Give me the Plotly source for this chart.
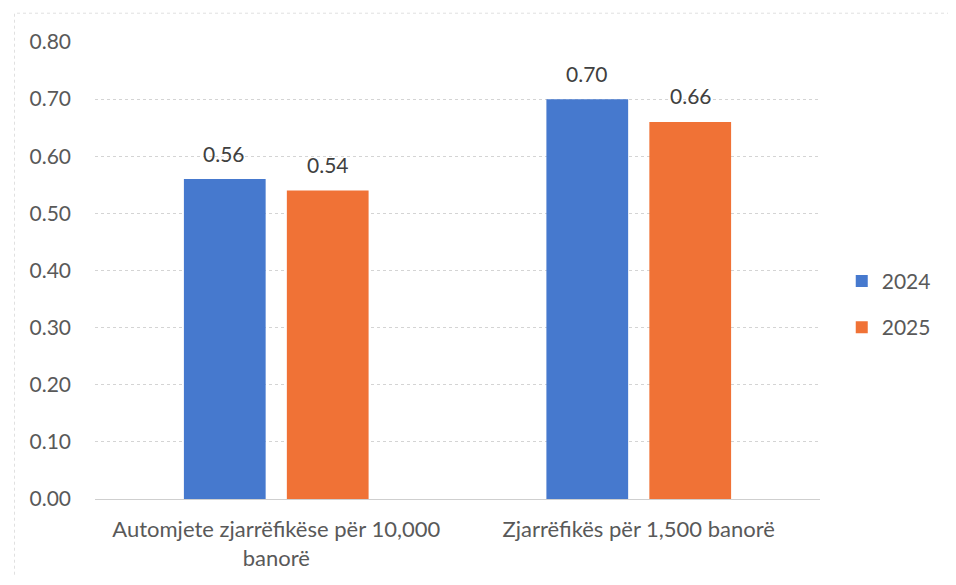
import plotly.graph_objects as go

categories = ["Automjete zjarrëfikëse për 10,000<br>banorë", "Zjarrëfikës për 1,500 banorë"]
years = ["2024", "2025"]
values_2024 = [0.56, 0.70]
values_2025 = [0.54, 0.66]
colors = ["#4679CE", "#F07236"]

fig = go.Figure()
for name, vals, col in zip(years, [values_2024, values_2025], colors):
    fig.add_trace(go.Bar(
        x=categories, y=vals, name=name, legendgroup=name,
        marker=dict(color=col, line=dict(width=0)),
    ))

# value labels above the bars
offsets = [-52, 52]
for vals, dx in zip([values_2024, values_2025], offsets):
    for cat, v in zip(categories, vals):
        fig.add_annotation(x=cat, y=v, text=f"{v:.2f}", showarrow=False,
                           xshift=dx, yshift=26, yanchor="middle",
                           font=dict(size=21, color="#404040"))

fig.update_layout(
    width=940, height=569,
    paper_bgcolor="white", plot_bgcolor="white",
    font=dict(family="Lato, 'Open Sans', sans-serif", color="#595959", size=21),
    margin=dict(l=87, r=116, t=34, b=78),
    barmode="group", bargap=0.432, bargroupgap=0.206,
    legend=dict(x=1.03, y=0.426, xanchor="left", yanchor="middle",
                font=dict(size=21, color="#595959"), tracegroupgap=16,
                itemwidth=30),
    showlegend=True,
)
fig.update_yaxes(range=[0, 0.8], dtick=0.1, tickformat=".2f", automargin=False,
                 showgrid=True, gridcolor="#d4d4d4", griddash="dot", gridwidth=1,
                 zeroline=True, zerolinecolor="#cfcfcf", zerolinewidth=1,
                 showline=False, ticks="", ticklabelstandoff=23,
                 tickfont=dict(size=21, color="#595959"))
fig.update_xaxes(showline=False, ticks="", automargin=False, ticklabelstandoff=15,
                 tickfont=dict(size=22, color="#595959"))

fig.add_shape(type="rect", xref="paper", yref="paper", x0=-0.111, x1=1.25, y0=-0.25, y1=1.063,
              line=dict(color="#e0e0e0", width=1, dash="dot"), layer="below")

fig.write_html("out.html")
